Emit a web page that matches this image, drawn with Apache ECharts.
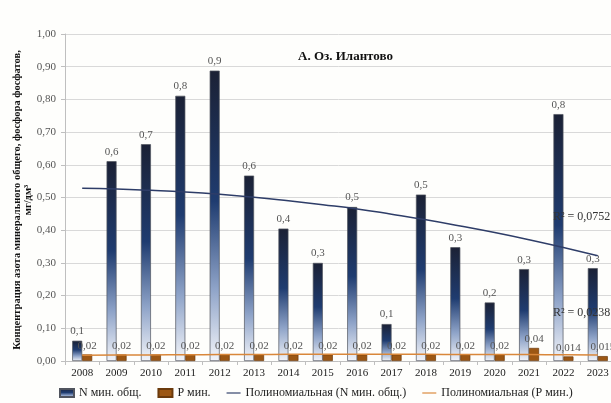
<!DOCTYPE html>
<html>
<head>
<meta charset="utf-8">
<script src="https://cdn.jsdelivr.net/npm/echarts@6/dist/echarts.min.js"></script>
<style>
  html, body { margin: 0; padding: 0; background: #fefefc; }
  #chart { width: 611px; height: 403px; }
</style>
</head>
<body>
<div id="chart"></div>
<script>
// Years of observation
const years = ['2008','2009','2010','2011','2012','2013','2014','2015',
               '2016','2017','2018','2019','2020','2021','2022','2023'];
// Mineral nitrogen, total (mg/dm³)
const nMin = [0.062, 0.611, 0.663, 0.811, 0.888, 0.567, 0.405, 0.300,
              0.471, 0.113, 0.509, 0.348, 0.179, 0.281, 0.755, 0.284];
// Phosphate phosphorus (mg/dm³)
const pMin = [0.02, 0.02, 0.02, 0.02, 0.02, 0.02, 0.02, 0.02,
              0.02, 0.02, 0.02, 0.02, 0.02, 0.04, 0.014, 0.015];
// Polynomial trend for N
const nTrend = [0.528, 0.526, 0.522, 0.517, 0.510, 0.501, 0.490, 0.478,
                0.465, 0.449, 0.432, 0.413, 0.393, 0.371, 0.347, 0.322];
// Polynomial trend for P
const pTrend = [0.0175, 0.018, 0.0185, 0.019, 0.0195, 0.020, 0.0203, 0.0205,
                0.0205, 0.0205, 0.0203, 0.020, 0.0198, 0.0195, 0.019, 0.0185];
const r2N = 'R² = 0,0752';
const r2P = 'R² = 0,0238';
const yTitle = 'Концентрация азота минерального общего, фосфора фосфатов,\nмг/дм³';

const serif = '"Liberation Serif", "DejaVu Serif", serif';
const comma = s => String(s).replace('.', ',');
const lineIcon = 'path://M0,0H24V2H0Z';

const nGradient = new echarts.graphic.LinearGradient(0, 0, 0, 1, [
  { offset: 0, color: '#1b2135' },
  { offset: 0.45, color: '#1f3c70' },
  { offset: 0.75, color: '#8ea3c8' },
  { offset: 1, color: '#f2f4f9' }
]);

const chart = echarts.init(document.getElementById('chart'), null, { renderer: 'canvas' });
chart.setOption({
  backgroundColor: '#fefefc',
  animation: false,
  textStyle: { fontFamily: serif },
  title: {
    text: 'А. Оз. Илантово',
    left: 293, top: 45,
    textStyle: { fontFamily: serif, fontSize: 13, fontWeight: 'bold', color: '#111' }
  },
  grid: { left: 65, top: 34, width: 550, height: 327, containLabel: false, outerBoundsMode: 'none' },
  legend: {
    left: 54, top: 382,
    itemWidth: 14, itemHeight: 8, itemGap: 16,
    symbolKeepAspect: true,
    textStyle: { fontFamily: serif, fontSize: 12, color: '#222' },
    data: [
      { name: 'N мин. общ.', icon: 'rect' },
      { name: 'P мин.', icon: 'rect' },
      { name: 'Полиномиальная (N мин. общ.)', icon: lineIcon },
      { name: 'Полиномиальная (P мин.)', icon: lineIcon }
    ]
  },
  xAxis: {
    type: 'category',
    data: years,
    axisLine: { lineStyle: { color: '#bfbfbf' } },
    axisTick: { show: true, length: 4, lineStyle: { color: '#bfbfbf' } },
    axisLabel: { fontFamily: serif, fontSize: 11, color: '#222', margin: 7 }
  },
  yAxis: {
    type: 'value',
    min: 0, max: 1, interval: 0.1,
    axisLine: { show: true, lineStyle: { color: '#bfbfbf' } },
    axisTick: { show: true, length: 4, lineStyle: { color: '#bfbfbf' } },
    axisLabel: {
      fontFamily: serif, fontSize: 11, color: '#555', margin: 9,
      formatter: v => v.toFixed(2).replace('.', ',')
    },
    splitLine: { lineStyle: { color: '#d9d9d9' } }
  },
  graphic: {
    elements: [
      // vertical axis title, reading bottom to top
      { type: 'text', x: 23, y: 200, rotation: Math.PI / 2, z: 100,
        style: { text: yTitle, font: 'bold 10.5px ' + serif, fill: '#111',
                 align: 'center', verticalAlign: 'middle', lineHeight: 11 } },
      { type: 'text', left: 553, top: 211, z: 100,
        style: { text: r2N, font: '12px ' + serif, fill: '#333' } },
      { type: 'text', left: 553, top: 307, z: 100,
        style: { text: r2P, font: '12px ' + serif, fill: '#333' } }
    ]
  },
  series: [
    {
      name: 'N мин. общ.',
      type: 'bar',
      data: nMin,
      barWidth: 10,
      barGap: '0%',
      itemStyle: { color: nGradient, borderColor: '#50545e', borderWidth: 0.7 },
      label: {
        show: true, position: 'top', distance: 4,
        fontFamily: serif, fontSize: 11, color: '#555',
        formatter: p => p.value.toFixed(1).replace('.', ',')
      },
      z: 2
    },
    {
      name: 'P мин.',
      type: 'bar',
      data: pMin,
      barWidth: 10,
      itemStyle: { color: '#9c5714', borderColor: '#6b3a0c', borderWidth: 0.7 },
      label: {
        show: true, position: 'top', distance: 3,
        fontFamily: serif, fontSize: 11, color: '#555',
        formatter: p => comma(p.value)
      },
      z: 2
    },
    {
      name: 'Полиномиальная (N мин. общ.)',
      type: 'line',
      data: nTrend,
      symbol: 'none',
      smooth: true,
      lineStyle: { color: '#2e3d68', width: 1.5 },
      itemStyle: { color: '#2e3d68' },
      z: 3
    },
    {
      name: 'Полиномиальная (P мин.)',
      type: 'line',
      data: pTrend,
      symbol: 'none',
      smooth: true,
      lineStyle: { color: '#d9873a', width: 1.5 },
      itemStyle: { color: '#d9873a' },
      z: 3
    }
  ]
});
</script>
</body>
</html>
